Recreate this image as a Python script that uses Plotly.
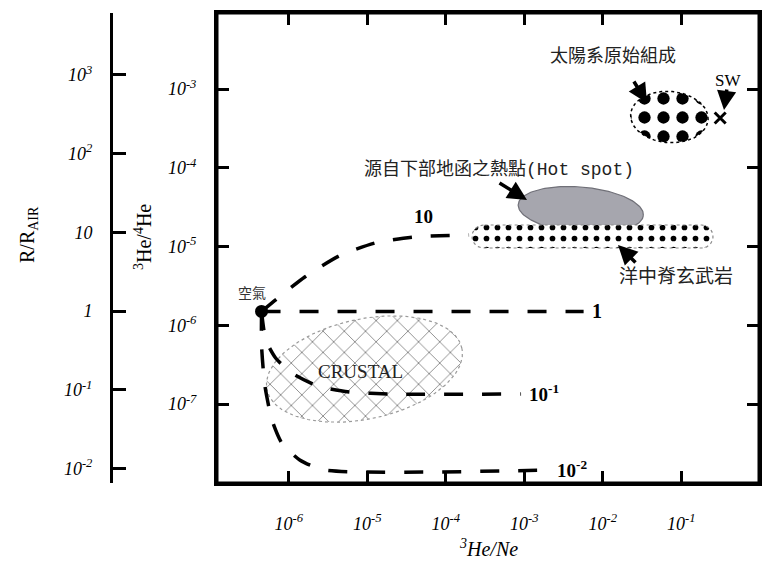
import numpy as np
import plotly.graph_objects as go

# ---------------- data ----------------
x_ticks = [1e-6, 1e-5, 1e-4, 1e-3, 1e-2, 1e-1]
x_ticktext = ["10<sup>-6</sup>", "10<sup>-5</sup>", "10<sup>-4</sup>",
              "10<sup>-3</sup>", "10<sup>-2</sup>", "10<sup>-1</sup>"]
y_ticks = [1e-3, 1e-4, 1e-5, 1e-6, 1e-7]
y_ticktext = ["10<sup>-3</sup>", "10<sup>-4</sup>", "10<sup>-5</sup>",
              "10<sup>-6</sup>", "10<sup>-7</sup>"]
r_ticks = [1e3, 1e2, 10, 1, 0.1, 0.01]
r_ticktext = ["10<sup>3</sup>", "10<sup>2</sup>", "10", "1",
              "10<sup>-1</sup>", "10<sup>-2</sup>"]

# air point (3He/Ne, 3He/4He)
air_x = [4.5e-7]
air_y = [1.5e-6]
# solar wind point
sw_x = [0.313]
sw_y = [4.28e-4]

# mixing curves between air and end members (R/Rair = 10, 1, 0.1, 0.01)
curve10_x = [4.5e-7, 7.0e-7, 1.6e-6, 4.4e-6, 1.27e-5, 3.85e-5, 1.98e-4]
curve10_y = [1.5e-6, 2.15e-6, 4.1e-6, 7.6e-6, 1.11e-5, 1.32e-5, 1.40e-5]
curve1_x = [4.5e-7, 5.7e-3]
curve1_y = [1.5e-6, 1.5e-6]
curve01_x = [4.5e-7, 5.1e-7, 6.8e-7, 1.09e-6, 2.33e-6, 5.9e-6, 1.91e-5, 9.1e-4]
curve01_y = [1.5e-6, 6.5e-7, 3.84e-7, 2.48e-7, 1.69e-7, 1.42e-7, 1.34e-7, 1.34e-7]
curve001_x = [4.5e-7, 4.5e-7, 4.95e-7, 6.1e-7, 8.15e-7, 1.38e-6, 2.86e-6, 1.94e-3]
curve001_y = [1.5e-6, 5.6e-7, 1.74e-7, 6.3e-8, 3.2e-8, 1.95e-8, 1.45e-8, 1.45e-8]

# fields: centre (log10 3He/Ne, log10 3He/4He), semi-axes in decades, tilt in degrees
solar_field = [-1.152, -3.356, 0.495, 0.325, -4.0]
hotspot_field = [-2.280, -4.535, 0.80, 0.29, -5.0]
crustal_field = [-5.036, -6.556, 1.269, 0.635, 12.0]
# MORB band: left end, right end (log10 3He/Ne), centre (log10 3He/4He), half height
morb_field = [-3.665, -0.594, -4.873, 0.146]

R_AIR_LOG = -5.82  # log10 of 3He/4He for R/Rair = 1 (as drawn)


def ellipse(cx, cy, a, b, tilt, n=160):
    t = np.linspace(0, 2 * np.pi, n)
    th = np.radians(tilt)
    ex, ey = a * np.cos(t), b * np.sin(t)
    lx = cx + ex * np.cos(th) - ey * np.sin(th)
    ly = cy + ex * np.sin(th) + ey * np.cos(th)
    return 10 ** lx, 10 ** ly


def stadium(x0, x1, cy, r, n=40):
    t1 = np.linspace(np.pi / 2, 3 * np.pi / 2, n)
    t2 = np.linspace(-np.pi / 2, np.pi / 2, n)
    lx = np.concatenate([x0 + r + r * np.cos(t1), x1 - r + r * np.cos(t2), [x0 + r]])
    ly = np.concatenate([cy + r * np.sin(t1), cy + r * np.sin(t2), [cy + r]])
    return 10 ** lx, 10 ** ly


# ---------------- geometry of the page ----------------
W, H = 763, 571
ML, MR, MT, MB = 0, 4, 13, 88
PW, PH = W - ML - MR, H - MT - MB


def P(px, py):
    return (px - ML) / PW, (H - MB - py) / PH


fig = go.Figure()

# crustal field (cross-hatched)
cx_, cy_ = ellipse(*crustal_field)
fig.add_trace(go.Scatter(x=cx_, y=cy_, mode="lines", fill="toself",
                         line=dict(color="#9a9a9a", width=1.2, dash="dot"),
                         fillcolor="white",
                         fillpattern=dict(shape="x", size=15, solidity=0.12,
                                          fgcolor="#8a8a8a", bgcolor="white",
                                          fillmode="replace"),
                         hoverinfo="skip", showlegend=False))

# hot spot field (grey)
hx, hy = ellipse(*hotspot_field)
fig.add_trace(go.Scatter(x=hx, y=hy, mode="lines", fill="toself",
                         line=dict(color="#707078", width=1.2),
                         fillcolor="#a6a6ae", hoverinfo="skip", showlegend=False))

# MORB band (small dots)
mx, my = stadium(*morb_field)
fig.add_trace(go.Scatter(x=mx, y=my, mode="lines", fill="toself",
                         line=dict(color="#8a8a8a", width=1.2, dash="dot"),
                         fillcolor="white",
                         fillpattern=dict(shape=".", size=11, solidity=0.21,
                                          fgcolor="black", bgcolor="white",
                                          fillmode="replace"),
                         hoverinfo="skip", showlegend=False))

# solar primordial field (big dots)
sx, sy = ellipse(*solar_field)
fig.add_trace(go.Scatter(x=sx, y=sy, mode="lines", fill="toself",
                         line=dict(color="black", width=1.5, dash="dot"),
                         fillcolor="white",
                         fillpattern=dict(shape=".", size=19, solidity=0.33,
                                          fgcolor="black", bgcolor="white",
                                          fillmode="replace"),
                         hoverinfo="skip", showlegend=False))

# mixing curves
dash = "19px,19px"
for xs, ys in [(curve10_x, curve10_y), (curve1_x, curve1_y),
               (curve01_x, curve01_y), (curve001_x, curve001_y)]:
    fig.add_trace(go.Scatter(x=xs, y=ys, mode="lines",
                             line=dict(color="black", width=3.5, dash=dash,
                                       shape="spline", smoothing=0.6),
                             hoverinfo="skip", showlegend=False))

# air point
fig.add_trace(go.Scatter(x=air_x, y=air_y, mode="markers",
                         marker=dict(color="black", size=13, symbol="circle"),
                         hoverinfo="skip", showlegend=False))
# solar wind
fig.add_trace(go.Scatter(x=sw_x, y=sw_y, mode="markers",
                         marker=dict(color="black", size=11, symbol="x-thin",
                                     line=dict(color="black", width=3)),
                         hoverinfo="skip", showlegend=False))

# dummy trace for the left R/Rair axis
fig.add_trace(go.Scatter(x=[1e-3], y=[1.0], yaxis="y2", mode="markers",
                         marker=dict(opacity=0), hoverinfo="skip", showlegend=False))

serif = "Liberation Serif"
cjk = "Noto Sans CJK TC"

ann = []


def label(px, py, text, size=18, family=serif, xanchor="center", angle=0,
          bold=False, italic=False, color="black"):
    x, y = P(px, py)
    ann.append(dict(x=x, y=y, xref="paper", yref="paper", text=text,
                    showarrow=False, xanchor=xanchor, yanchor="middle",
                    textangle=angle,
                    font=dict(family=family, size=size, color=color,
                              weight="bold" if bold else "normal",
                              style="italic" if italic else "normal")))


# axis titles
label(28, 235, "R/R<sub>AIR</sub>", size=20, angle=-90)
label(143, 237, "<sup>3</sup>He/<sup>4</sup>He", size=20, angle=-90)
label(488, 548, "<sup>3</sup>He/Ne", size=20, italic=True)

# field labels
label(613, 54, "太陽系原始組成", size=18, family=cjk, color="#222")
label(362, 167, "源自下部地函之熱點<span style=\"font-family:'Liberation Mono'\">(Hot spot)</span>",
      size=18, family=cjk, xanchor="left", color="#222")
label(617, 274, "洋中脊玄武岩", size=19, family=cjk, xanchor="left", color="#222")
label(252, 292, "空氣", size=14, family=cjk, color="#333")
label(728, 80, "SW", size=17, family=serif)
label(360, 372, "CRUSTAL", size=19, family=serif, color="#222")

# curve labels
label(423, 216, "10", size=19, bold=True)
label(597, 311, "1", size=20, bold=True)
label(544, 393, "10<sup>-1</sup>", size=19, bold=True)
label(572, 469, "10<sup>-2</sup>", size=19, bold=True)


def arrow(hx_px, hy_px, tx_px, ty_px):
    x, y = P(hx_px, hy_px)
    ann.append(dict(x=x, y=y, xref="paper", yref="paper", text="",
                    showarrow=True, ax=tx_px - hx_px, ay=ty_px - hy_px,
                    axref="pixel", ayref="pixel",
                    arrowhead=2, arrowsize=1.1, arrowwidth=3.5, arrowcolor="black"))


arrow(647, 103, 633, 80)     # solar
arrow(724, 110, 727, 88)     # SW
arrow(527, 200, 498, 182)    # hot spot
arrow(618, 245, 637, 264)    # MORB

x_lo, x_hi = -6.914, -0.010
y_lo, y_hi = -8.003, -2.035

axis_common = dict(type="log", showline=True, linecolor="black", linewidth=3,
                   ticks="inside", tickcolor="black", tickwidth=3,
                   showgrid=False, zeroline=False,
                   tickfont=dict(family=serif, size=18, color="black", style="italic"))

fig.update_layout(
    width=W, height=H,
    margin=dict(l=ML, r=MR, t=MT, b=MB, pad=0),
    paper_bgcolor="white", plot_bgcolor="white",
    xaxis=dict(**axis_common, range=[x_lo, x_hi], domain=[(217 - ML) / PW, 1],
               mirror="ticks", ticklen=12, tickvals=x_ticks, ticktext=x_ticktext,
               ticklabelstandoff=22, anchor="y"),
    yaxis=dict(**axis_common, range=[y_lo, y_hi], mirror="ticks", ticklen=12,
               tickvals=y_ticks, ticktext=y_ticktext, ticklabelstandoff=14, anchor="x"),
    yaxis2=dict(**axis_common, range=[y_lo - R_AIR_LOG, y_hi - R_AIR_LOG],
                overlaying="y", anchor="free", position=(111 - ML) / PW, side="left",
                ticklen=13, tickvals=r_ticks, ticktext=r_ticktext, ticklabelstandoff=14),
    shapes=[dict(type="rect", xref="x domain", yref="y domain", x0=0, x1=1, y0=0, y1=1,
                 line=dict(color="black", width=3), layer="above")],
    annotations=ann,
    showlegend=False,
)

fig.write_html("out.html", config={"displayModeBar": False},
               post_script="document.body.style.margin='0';document.body.style.padding='0';")
